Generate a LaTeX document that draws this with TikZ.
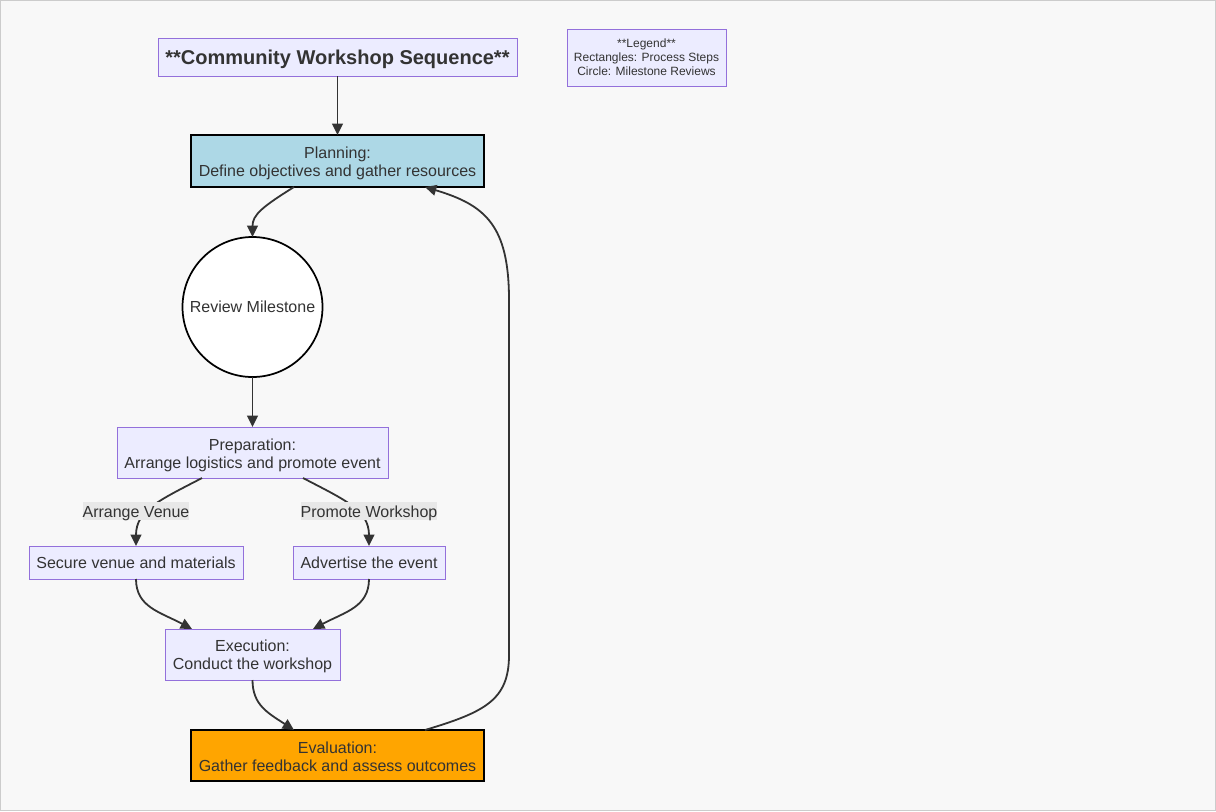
\documentclass[tikz,border=0pt]{standalone}
\usepackage{fontspec}
\setmainfont{Liberation Sans}
\usetikzlibrary{arrows.meta,calc}
\definecolor{bgc}{HTML}{F8F8F8}
\definecolor{framec}{HTML}{CCCCCC}
\definecolor{txt}{HTML}{333333}
\definecolor{lav}{HTML}{9370DB}
\definecolor{lavfill}{HTML}{ECECFF}
\definecolor{planfill}{HTML}{ADD8E6}
\definecolor{evalfill}{HTML}{FFA500}
\definecolor{lblfill}{HTML}{E8E8E8}
\definecolor{edgec}{HTML}{333333}
\newcommand{\firstup}{\rule{0pt}{12.5pt}}
\newcommand{\firstupb}{\rule{0pt}{11pt}}
\tikzset{
  base/.style={inner sep=0pt, outer sep=0pt, align=center, text=txt,
    font=\fontsize{12}{13.5}\selectfont},
  lower/.style={execute at begin node={\rule{0pt}{#1}}},
  proc/.style={base, rectangle, draw=lav, fill=lavfill, line width=0.75pt},
  keybox/.style={base, rectangle, draw=black, line width=1.5pt},
  milestone/.style={base, circle, draw=black, fill=white, line width=1.3pt, minimum size=105pt},
  lbl/.style={inner sep=0pt, outer sep=0pt, text=txt, font=\fontsize{12}{13.5}\selectfont,
    fill=lblfill, inner ysep=1pt, text height=10.25pt, text depth=1.25pt},
  edge/.style={draw=edgec, line width=1.35pt, -{Triangle[length=8.5pt,width=8pt]}},
}
\begin{document}
\begin{tikzpicture}[x=0.75pt,y=-0.75pt]
\path[use as bounding box, fill=bgc, draw=framec, line width=0.75pt] (0.5,0.5) rectangle (1215.5,810.5);
% nodes
\node[proc, lower=14pt, minimum width=269.25pt, minimum height=28.5pt, font=\bfseries\fontsize{15}{18}\selectfont] (title) at (337.5,57) {**Community Workshop Sequence**};
\node[proc, minimum width=119.25pt, minimum height=42.75pt, font=\fontsize{9}{10.5}\selectfont] (legend) at (646.5,57.5) {**Legend**\\Rectangles: Process Steps\\Circle: Milestone Reviews};
\node[keybox, fill=planfill, minimum width=219.75pt, minimum height=39pt] (plan) at (337.5,161) {\firstup Planning:\\Define objectives and gather resources};
\node[milestone] (review) at (252.5,307) {Review Milestone};
\node[proc, minimum width=203.25pt, minimum height=38.25pt] (prep) at (252.5,452.5) {\firstup Preparation:\\Arrange logistics and promote event};
\node[proc, minimum width=160.5pt, minimum height=24.75pt] (secure) at (136,562.5) {Secure venue and materials};
\node[proc, minimum width=114pt, minimum height=24.75pt] (advert) at (369,562.5) {Advertise the event};
\node[proc, minimum width=131.25pt, minimum height=38.25pt] (exec) at (252.5,654.5) {\firstupb Execution:\\Conduct the workshop};
\node[keybox, fill=evalfill, minimum width=219.75pt, minimum height=38.25pt] (eval) at (337.5,755.5) {\firstupb Evaluation:\\Gather feedback and assess outcomes};
% edges
\draw[edge] (title.south) -- (plan.north);
\draw[edge] ($(plan.south)+(-43.5,0)$) .. controls (262,207) and (252.5,215) .. (review.north);
\draw[edge] (review.south) -- (prep.north);
\draw[edge] ($(prep.south)+(-50.5,0)$) .. controls (160,500) and (136,510) .. (secure.north);
\draw[edge] ($(prep.south)+(50.5,0)$) .. controls (345,500) and (369,510) .. (advert.north);
\draw[edge] (secure.south) .. controls (136,607) and (160,612) .. ($(exec.north)+(-60.5,0)$);
\draw[edge] (advert.south) .. controls (369,607) and (345,612) .. ($(exec.north)+(60.5,0)$);
\draw[edge] (exec.south) .. controls (252.5,705) and (268,713) .. ($(eval.north)+(-43.5,0)$);
\draw[edge] ($(eval.north)+(87.5,0)$) .. controls (485,712) and (509,700) .. (509,655) -- (509,300) .. controls (509,225) and (485,205) .. ($(plan.south)+(87.5,0)$);
% edge labels
\node[lbl] (lvenue) at (136,511) {Arrange Venue};
\node[lbl] (lpromo) at (369,511) {Promote Workshop};
\end{tikzpicture}
\end{document}
